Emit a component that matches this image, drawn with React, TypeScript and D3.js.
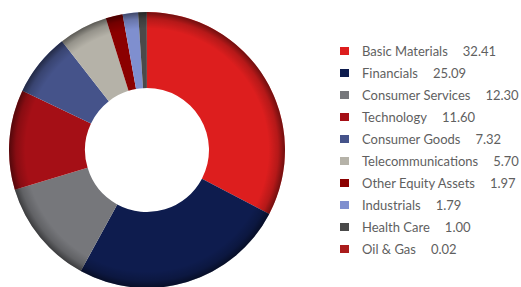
import React, { useEffect, useRef } from "react";
import * as d3 from "d3";

// 섹터 데이터
const sectors = [
  "Basic Materials",
  "Financials",
  "Consumer Services",
  "Technology",
  "Consumer Goods",
  "Telecommunications",
  "Other Equity Assets",
  "Industrials",
  "Health Care",
  "Oil & Gas",
];
const weights = [32.41, 25.09, 12.3, 11.6, 7.32, 5.7, 1.97, 1.79, 1.0, 0.02];
const colors = [
  "#dd1e1e",
  "#0e1c4e",
  "#76777b",
  "#a50f16",
  "#45538a",
  "#b5b2a8",
  "#8b0000",
  "#7f8fcf",
  "#4a4a4a",
  "#aa1c1c",
];

const DonutChart: React.FC = () => {
  const ref = useRef<HTMLDivElement>(null);

  useEffect(() => {
    if (!ref.current) return;
    d3.select(ref.current).selectAll("svg").remove();

    const width = 521;
    const height = 287;
    const cx = 147;
    const cy = 150;
    const outerR = 138;
    const innerR = 62;

    const svg = d3
      .select(ref.current)
      .append("svg")
      .attr("width", width)
      .attr("height", height)
      .style("display", "block");

    const defs = svg.append("defs");
    // 바깥쪽 테두리 음영 (bevel 느낌)
    const grad = defs
      .append("radialGradient")
      .attr("id", "rim")
      .attr("gradientUnits", "userSpaceOnUse")
      .attr("cx", 0)
      .attr("cy", 0)
      .attr("r", outerR);
    grad.append("stop").attr("offset", "0.88").attr("stop-color", "#000").attr("stop-opacity", 0);
    grad.append("stop").attr("offset", "0.95").attr("stop-color", "#000").attr("stop-opacity", 0.18);
    grad.append("stop").attr("offset", "1").attr("stop-color", "#000").attr("stop-opacity", 0.5);

    const data = sectors.map((name, i) => ({ name, value: weights[i], color: colors[i] }));

    const pie = d3
      .pie<{ name: string; value: number; color: string }>()
      .value((d) => d.value)
      .sort(null);
    const arc = d3
      .arc<d3.PieArcDatum<{ name: string; value: number; color: string }>>()
      .innerRadius(innerR)
      .outerRadius(outerR);

    const g = svg.append("g").attr("transform", `translate(${cx},${cy})`);

    g.selectAll("path.slice")
      .data(pie(data))
      .join("path")
      .attr("class", "slice")
      .attr("d", arc)
      .attr("fill", (d) => d.data.color);

    // 링 전체에 음영 오버레이
    g.append("path")
      .attr("d", d3.arc()({ innerRadius: innerR, outerRadius: outerR, startAngle: 0, endAngle: 2 * Math.PI }) as string)
      .attr("fill", "url(#rim)");

    // 범례
    const y = d3
      .scalePoint<string>()
      .domain(sectors)
      .range([51, 51 + 22 * (sectors.length - 1)]);

    const legend = svg
      .append("g")
      .selectAll("g")
      .data(data)
      .join("g")
      .attr("transform", (d) => `translate(340,${y(d.name)})`);

    legend
      .append("rect")
      .attr("x", 0)
      .attr("y", -4)
      .attr("width", 9)
      .attr("height", 8)
      .attr("fill", (d) => d.color);

    const text = legend
      .append("text")
      .attr("x", 22)
      .attr("y", 0)
      .attr("dy", "0.35em")
      .style("font-family", "Lato, 'Open Sans', sans-serif")
      .style("font-size", "13px")
      .attr("fill", "#5f5f5f");
    text.append("tspan").text((d) => d.name);
    text
      .append("tspan")
      .attr("dx", 15)
      .text((d) => d.value.toFixed(2));
  }, []);

  return <div ref={ref} />;
};

export default function App() {
  return (
    <div style={{ position: "absolute", left: 0, top: 0 }}>
      <DonutChart />
    </div>
  );
}
